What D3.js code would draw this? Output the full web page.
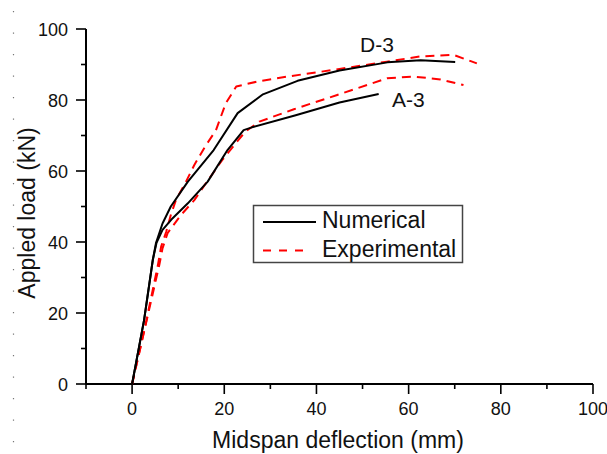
<!DOCTYPE html>
<html>
<head>
<meta charset="utf-8">
<script src="https://cdn.jsdelivr.net/npm/d3@7"></script>
<style>
  html, body { margin: 0; padding: 0; background: #fff; }
  svg { display: block; font-family: "Liberation Sans", Arial, sans-serif; }
</style>
</head>
<body>
<svg id="chart" width="607" height="454"></svg>
<script>
// Load–deflection curves, [deflection (mm), load (kN)]
const d3Numerical = [[0,0],[2.6,18],[4.5,35],[5.2,39.8],[6.6,45.2],[8.4,50],[12.1,57],[17.7,65.9],[22.9,76.3],[28.4,81.6],[35.9,85.4],[45,88.3],[55.4,90.6],[62.6,91.2],[70.1,90.7]];
const a3Numerical = [[0,0],[2.6,18],[4.5,35],[5.3,39.8],[6.6,43.4],[8.8,46.7],[12.1,50.9],[16.4,57],[20.7,65.9],[24.2,71.5],[26,72.3],[35.5,75.7],[45,79.3],[53.5,81.7]];
const d3Experimental = [[0,0],[2.8,16],[5.6,33.5],[6.3,38.7],[7.4,42.9],[8.4,47.6],[9.5,51.8],[11.7,57],[13.5,61.7],[15.8,66.8],[18.2,71.5],[20.3,79],[22.6,83.8],[27.2,85.2],[33.7,86.6],[43.8,88.5],[55.3,90.8],[62.6,92.3],[69.8,92.7],[74.8,90.3]];
const a3Experimental = [[0,0],[3,17],[5.9,33.5],[6.6,38.2],[7.7,42.5],[10.6,47.6],[13.5,51.8],[16,56.5],[19.5,63],[22.3,67.5],[24.5,71],[27.6,73.9],[35.1,77.4],[44.5,81.4],[55.3,86.1],[61.1,86.6],[66.9,85.8],[71.9,84.2]];

const xMajorTicks = [0, 20, 40, 60, 80, 100];
const xMinorTicks = [-10, 10, 30, 50, 70, 90];
const yMajorTicks = [0, 20, 40, 60, 80, 100];
const yMinorTicks = [10, 30, 50, 70, 90];

const curveLabels = [
  { text: "D-3", x: 360, y: 52 },
  { text: "A-3", x: 392, y: 107 }
];
const legendItems = [
  { text: "Numerical", dashed: false },
  { text: "Experimental", dashed: true }
];

const svg = d3.select("#chart");
const x = d3.scaleLinear().domain([-10, 100]).range([86, 593]);
const y = d3.scaleLinear().domain([0, 100]).range([384, 29]);

// faint dotted rule along the left edge
svg.append("line")
  .attr("x1", 13.5).attr("x2", 13.5).attr("y1", 11).attr("y2", 445)
  .attr("stroke", "#777").attr("stroke-width", 1.2)
  .attr("stroke-dasharray", "1.2,20.3");

// axes
const xAxisG = svg.append("g").attr("transform", `translate(0,${y(0)})`);
xAxisG.append("line").attr("x1", x(-10)).attr("x2", x(100))
  .attr("stroke", "#000").attr("stroke-width", 2);
xAxisG.selectAll(".maj").data(xMajorTicks).join("line")
  .attr("x1", d => x(d)).attr("x2", d => x(d)).attr("y1", 0).attr("y2", 10)
  .attr("stroke", "#000").attr("stroke-width", 1.6);
xAxisG.selectAll(".min").data(xMinorTicks).join("line")
  .attr("x1", d => x(d)).attr("x2", d => x(d)).attr("y1", 0).attr("y2", 5)
  .attr("stroke", "#000").attr("stroke-width", 1.6);
xAxisG.selectAll("text").data(xMajorTicks).join("text")
  .attr("x", d => x(d)).attr("y", 31)
  .attr("text-anchor", "middle").attr("font-size", 18).attr("fill", "#111")
  .text(d => d);

const yAxisG = svg.append("g").attr("transform", `translate(${x(-10)},0)`);
yAxisG.append("line").attr("y1", y(0)).attr("y2", y(100))
  .attr("stroke", "#000").attr("stroke-width", 2);
yAxisG.selectAll(".maj").data(yMajorTicks).join("line")
  .attr("y1", d => y(d)).attr("y2", d => y(d)).attr("x1", 0).attr("x2", -10)
  .attr("stroke", "#000").attr("stroke-width", 1.6);
yAxisG.selectAll(".min").data(yMinorTicks).join("line")
  .attr("y1", d => y(d)).attr("y2", d => y(d)).attr("x1", 0).attr("x2", -5)
  .attr("stroke", "#000").attr("stroke-width", 1.6);
yAxisG.selectAll("text").data(yMajorTicks).join("text")
  .attr("x", -18).attr("y", d => y(d) + 6.5)
  .attr("text-anchor", "end").attr("font-size", 18).attr("fill", "#111")
  .text(d => d);

// axis titles
svg.append("text")
  .attr("x", 338).attr("y", 448)
  .attr("text-anchor", "middle").attr("font-size", 23).attr("fill", "#111")
  .text("Midspan deflection (mm)");
svg.append("text")
  .attr("transform", "translate(35,213) rotate(-90)")
  .attr("text-anchor", "middle").attr("font-size", 23).attr("fill", "#111")
  .text("Appled load (kN)");

// curves
const line = d3.line().x(d => x(d[0])).y(d => y(d[1]));
const series = [
  { data: d3Experimental, color: "#ff0000", dash: "9,6" },
  { data: a3Experimental, color: "#ff0000", dash: "9,6" },
  { data: d3Numerical, color: "#000", dash: null },
  { data: a3Numerical, color: "#000", dash: null }
];
svg.selectAll(".curve").data(series).join("path")
  .attr("class", "curve")
  .attr("d", d => line(d.data))
  .attr("fill", "none")
  .attr("stroke", d => d.color)
  .attr("stroke-width", 2)
  .attr("stroke-linejoin", "round")
  .attr("stroke-dasharray", d => d.dash);

// curve names
svg.selectAll(".clabel").data(curveLabels).join("text")
  .attr("class", "clabel")
  .attr("x", d => d.x).attr("y", d => d.y)
  .attr("font-size", 21).attr("fill", "#111")
  .text(d => d.text);

// legend
const lg = svg.append("g");
lg.append("rect").attr("x", 253.5).attr("y", 205.5).attr("width", 209).attr("height", 57)
  .attr("fill", "#fff").attr("stroke", "#444").attr("stroke-width", 1.5);
legendItems.forEach((item, i) => {
  const cy = 222 + i * 28.5;
  lg.append("line")
    .attr("x1", 263).attr("x2", item.dashed ? 305 : 316)
    .attr("y1", cy).attr("y2", cy)
    .attr("stroke", item.dashed ? "#ff0000" : "#000")
    .attr("stroke-width", 2)
    .attr("stroke-dasharray", item.dashed ? "8,8" : null);
  lg.append("text")
    .attr("x", 322).attr("y", cy + 6 + i * 0.5)
    .attr("font-size", 23).attr("fill", "#111")
    .text(item.text);
});
</script>
</body>
</html>
